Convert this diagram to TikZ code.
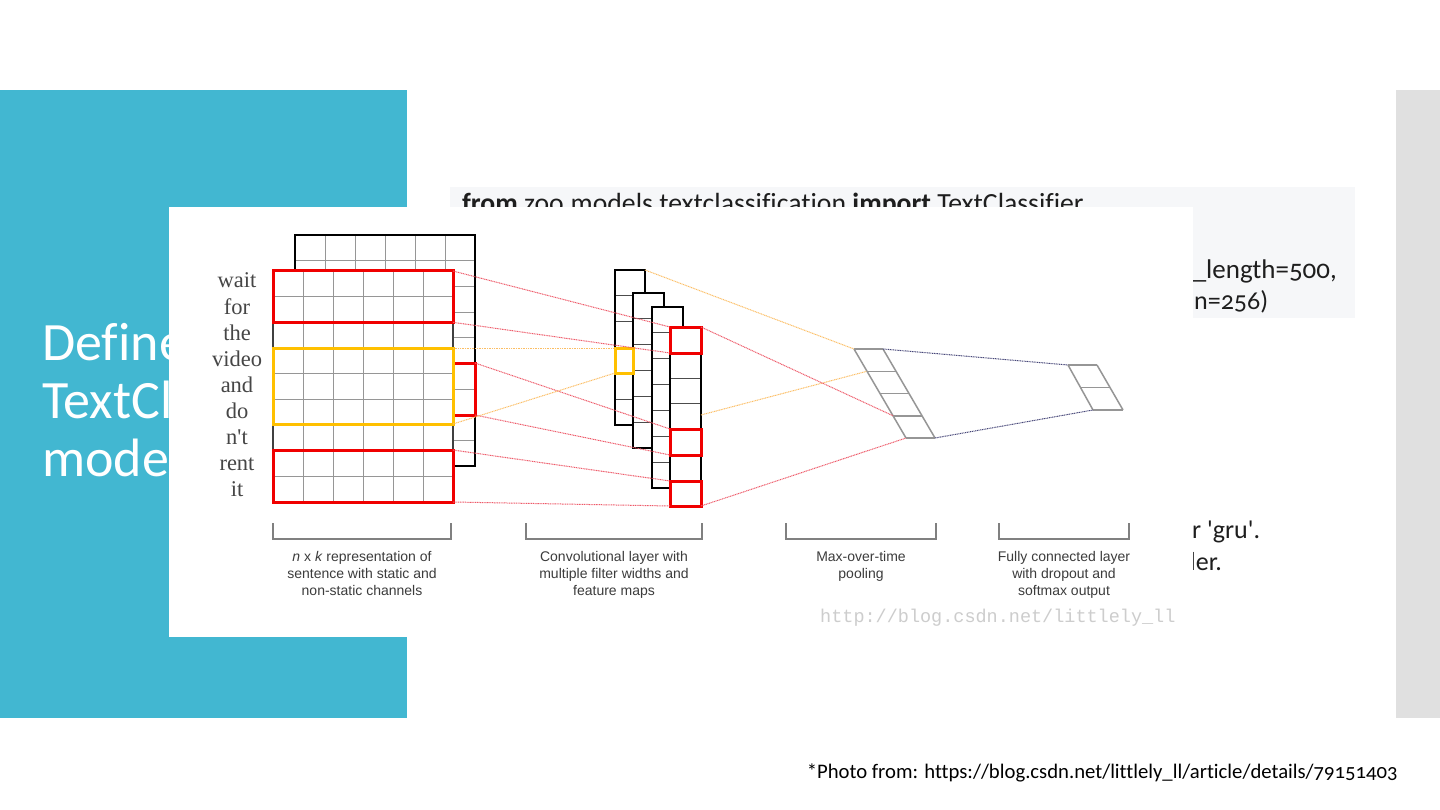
\documentclass[tikz,border=0pt]{standalone}
\usepackage{fontspec}
\usetikzlibrary{calc}
\newfontfamily\slidefont{Carlito}[Numbers=OldStyle,Ligatures=CommonOff]
\newfontfamily\slidequote{Carlito}[Numbers=OldStyle,Ligatures={TeXOff,CommonOff}]
\newfontfamily\arialfont{Liberation Sans}
\newfontfamily\serffont{Liberation Serif}
\newfontfamily\wmfont{Liberation Mono}
\definecolor{panelblue}{RGB}{66,183,209}
\definecolor{stripgray}{RGB}{224,224,224}
\definecolor{codebg}{RGB}{246,247,249}
\definecolor{boxred}{RGB}{240,0,0}
\definecolor{boxyellow}{RGB}{255,192,0}
\definecolor{dotred}{RGB}{238,90,105}
\definecolor{dotorange}{RGB}{252,190,100}
\definecolor{dotnavy}{RGB}{70,70,120}
\definecolor{gridgray}{RGB}{150,150,150}
\definecolor{wordgray}{RGB}{70,70,70}
\definecolor{labgray}{RGB}{60,60,60}
\definecolor{wmgray}{RGB}{205,205,205}
\definecolor{codeink}{RGB}{30,30,30}
\begin{document}
\begin{tikzpicture}[x=1pt,y=-1pt,
  titletext/.style={font=\slidefont\fontsize{54}{58}\selectfont, text=white, anchor=base west, inner sep=0},
  codetext/.style={font=\slidefont\fontsize{27}{30}\selectfont, text=codeink, inner sep=0},
  bodytext/.style={font=\slidefont\fontsize{26}{30}\selectfont, text=codeink, inner sep=0},
  wordtext/.style={font=\serffont\fontsize{22.5}{22}\selectfont, text=wordgray, anchor=base, inner sep=0},
  labeltext/.style={font=\arialfont\fontsize{14}{17}\selectfont, text=labgray, align=center, anchor=north, inner sep=0},
  gridline/.style={draw=gridgray, line width=0.9},
  outline/.style={draw=black, line width=1.1},
  slantline/.style={draw=gridgray, line width=1.5},
  redbox/.style={draw=boxred, line width=3, rectangle, inner sep=0, outer sep=0, anchor=north west},
  yelbox/.style={draw=boxyellow, line width=3, rectangle, inner sep=0, outer sep=0, anchor=north west},
  reddot/.style={draw=dotred, line width=1, dash pattern=on 1pt off 0.7pt},
  orangedot/.style={draw=dotorange, line width=1, dash pattern=on 1pt off 0.7pt},
  navydot/.style={draw=dotnavy, line width=1, dash pattern=on 1pt off 0.7pt},
  bracket/.style={draw=gray, line width=1.1}
]
\useasboundingbox (0,0) rectangle (1440,810);
\fill[white] (0,0) rectangle (1440,810);
% slide background
\fill[panelblue] (0,90) rectangle (407,718);
\fill[stripgray] (1396,90) rectangle (1440,718);
\fill[codebg] (450,187) rectangle (1355,318);
% title
\node[titletext] (t1) at (42,360) {Define};
\node[titletext] (t2) at (42,418) {TextCl};
\node[titletext] (t3) at (42,476) {mode};
% code and body text
\node[codetext, anchor=base west, font=\slidefont\fontsize{27.7}{30}\selectfont] (c1) at (462,213) {\textbf{from} zoo.models.textclassification \textbf{import} TextClassifier};
\node[codetext, anchor=base east] (c2) at (1337,279) {\_length=500,};
\node[bodytext, anchor=base west] (c3) at (1194,309) {n=256)};
\node[bodytext, anchor=base west, font=\slidequote\fontsize{26}{30}\selectfont] (c4) at (1192,538) {r 'gru'.};
\node[bodytext, anchor=base west] (c5) at (1182,570) {der.};
% footnote
\node[font=\slidefont\fontsize{20.7}{24}\selectfont, text=black, anchor=base east, inner sep=0] (foot) at (1398,778) {*Photo from: https://blog.csdn.net/littlely\_ll/article/details/79151403};
% pasted image
\fill[white] (169,207) rectangle (1193,637);

% back matrix
\fill[white] (295,235) rectangle (475,466);
\foreach \i in {1,...,5} \draw[gridline] ({295+30*\i},235) -- ({295+30*\i},466);
\foreach \j in {1,...,8} \draw[gridline] (295,{235+25.67*\j}) -- (475,{235+25.67*\j});
\draw[outline] (295,235) rectangle (475,466);
% front matrix
\fill[white] (273,271) rectangle (453,502);
\foreach \i in {1,...,5} \draw[gridline] ({273+30*\i},271) -- ({273+30*\i},502);
\foreach \j in {1,...,8} \draw[gridline] (273,{271+25.67*\j}) -- (453,{271+25.67*\j});
\draw[outline, draw=black!75] (273,271) rectangle (453,502);

% words
\foreach \w [count=\k from 0] in {wait,for,the,video,and,do,n't,rent,it}
  \node[wordtext] (w\k) at (237,{288+26*\k}) {\w};

% feature maps
\fill[white] (615,270) rectangle (645,425);
\foreach \j in {1,...,5} \draw[gridline, draw=black!70] (615,{270+25.83*\j}) -- (645,{270+25.83*\j});
\draw[outline] (615,270) rectangle (645,425);
\fill[white] (633,293) rectangle (664,448);
\foreach \j in {1,...,5} \draw[gridline, draw=black!70] (633,{293+25.83*\j}) -- (664,{293+25.83*\j});
\draw[outline] (633,293) rectangle (664,448);
\fill[white] (652,307) rectangle (683,488);
\foreach \j in {1,...,6} \draw[gridline, draw=black!70] (652,{307+25.86*\j}) -- (683,{307+25.86*\j});
\draw[outline] (652,307) rectangle (683,488);
\fill[white] (670,327) rectangle (701,506);
\foreach \j in {1,...,6} \draw[gridline, draw=black!70] (670,{327+25.57*\j}) -- (701,{327+25.57*\j});
\draw[outline] (670,327) rectangle (701,506);
\coordinate (m1top) at (645,270);
\coordinate (m4mid) at (701,415);

% max pooling parallelogram
\coordinate (mpTL) at (854,349);
\coordinate (mpTR) at (883,349);
\coordinate (mpBL) at (906,438);
\coordinate (mpBR) at (935,438);
\coordinate (mp1) at ($(mpTL)!0.25!(mpBL)$);
\coordinate (mp3) at ($(mpTL)!0.75!(mpBL)$);
\draw[slantline] (mpTL) -- (mpBL);
\draw[slantline] (mpTR) -- (mpBR);
\foreach \k in {0,1,2,3,4}
  \draw[slantline] ($(mpTL)!\k/4!(mpBL)$) -- ($(mpTR)!\k/4!(mpBR)$);
% fully connected
\coordinate (fcTL) at (1068,365);
\coordinate (fcTR) at (1097,365);
\coordinate (fcBL) at (1093,410);
\coordinate (fcBR) at (1123,410);
\draw[slantline] (fcTL) -- (fcBL);
\draw[slantline] (fcTR) -- (fcBR);
\foreach \k in {0,1,2}
  \draw[slantline] ($(fcTL)!\k/2!(fcBL)$) -- ($(fcTR)!\k/2!(fcBR)$);

% highlight boxes
\node[redbox, minimum width=180, minimum height=51.3] (r1) at (273,271) {};
\node[redbox, minimum width=22, minimum height=52] (r2) at (453,363) {};
\node[yelbox, minimum width=180, minimum height=76] (y1) at (273,348) {};
\node[redbox, minimum width=180, minimum height=52] (r3) at (273,450) {};
\node[yelbox, minimum width=18, minimum height=25] (yb) at (615,348) {};
\node[redbox, minimum width=31, minimum height=26] (mb1) at (670,327) {};
\node[redbox, minimum width=31, minimum height=26] (mb2) at (670,429) {};
\node[redbox, minimum width=31, minimum height=25] (mb3) at (670,481) {};

% connectors
\draw[reddot] (r1.north east) -- (mb1.north west);
\draw[reddot] (r1.south east) -- (mb1.south west);
\draw[reddot] (r2.north east) -- (mb2.north west);
\draw[reddot] (r2.south east) -- (mb2.south west);
\draw[reddot] (r3.north east) -- (mb3.north west);
\draw[reddot] (r3.south east) -- (mb3.south west);
\draw[orangedot] (y1.north east) -- (yb.north west);
\draw[orangedot] (y1.south east) -- (yb.south west);
\draw[orangedot] (m1top) -- (mpTL);
\draw[orangedot] (m4mid) -- (mp1);
\draw[reddot] (mb1.north east) -- (mp3);
\draw[reddot] (mb3.south east) -- (mpBL);
\draw[navydot] (mpTR) -- (fcTL);
\draw[navydot] (mpBR) -- (fcBL);

% brackets and captions
\draw[bracket] (273,523) -- (273,539) -- (451,539) -- (451,523);
\draw[bracket] (526,523) -- (526,539) -- (702,539) -- (702,523);
\draw[bracket] (786,523) -- (786,539) -- (936,539) -- (936,523);
\draw[bracket] (999,523) -- (999,539) -- (1129,539) -- (1129,523);
\node[labeltext] (l1) at (362,551) {\textit{n} x \textit{k} representation of\\sentence with static and\\non-static channels};
\node[labeltext] (l2) at (614,551) {Convolutional layer with\\multiple filter widths and\\feature maps};
\node[labeltext] (l3) at (861,551) {Max-over-time\\pooling};
\node[labeltext] (l4) at (1064,551) {Fully connected layer\\with dropout and\\softmax output};
\node[font=\wmfont\fontsize{18.5}{20}\selectfont, text=wmgray, anchor=base west, inner sep=0] (wm) at (820,622) {http://blog.csdn.net/littlely\_ll};
\end{tikzpicture}
\end{document}
